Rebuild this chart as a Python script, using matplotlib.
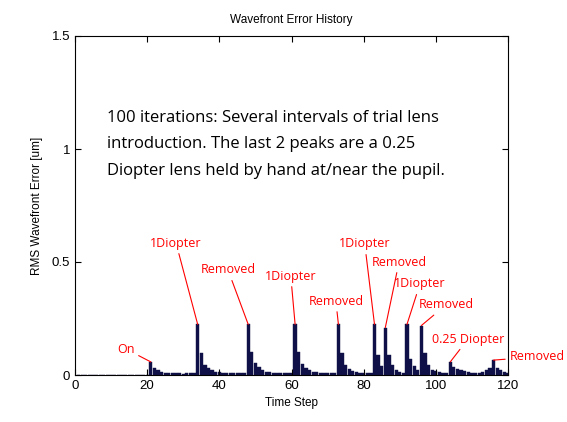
import matplotlib
matplotlib.use("Agg")
import matplotlib.pyplot as plt
import numpy as np

# RMS wavefront error per time step (1..120)
steps = list(range(1, 121))
rms_error = [
    0, 0, 0, 0, 0, 0, 0, 0, 0, 0,
    0, 0, 0, 0, 0, 0, 0, 0, 0, 0,
    0.058, 0.032, 0.022, 0.013, 0.010, 0.008, 0.007, 0.008, 0.007, 0.006,
    0.007, 0.008, 0.007, 0.224, 0.096, 0.044, 0.030, 0.020, 0.014, 0.012,
    0.010, 0.009, 0.009, 0.008, 0.008, 0.009, 0.008, 0.224, 0.100, 0.055,
    0.035, 0.020, 0.015, 0.012, 0.010, 0.009, 0.009, 0.008, 0.008, 0.009,
    0.224, 0.100, 0.050, 0.030, 0.020, 0.015, 0.012, 0.010, 0.009, 0.008,
    0.008, 0.009, 0.224, 0.098, 0.044, 0.025, 0.018, 0.012, 0.010, 0.009,
    0.008, 0.009, 0.224, 0.090, 0.040, 0.210, 0.088, 0.044, 0.022, 0.015,
    0.010, 0.224, 0.073, 0.040, 0.020, 0.219, 0.096, 0.044, 0.022, 0.018,
    0.012, 0.010, 0.008, 0.058, 0.036, 0.025, 0.020, 0.018, 0.012, 0.010,
    0.010, 0.010, 0.015, 0.020, 0.030, 0.066, 0.030, 0.022, 0.015, 0.010,
]

# annotations: label and the step it points at
ann_labels = ["On", "1Diopter", "Removed", "1Diopter", "Removed", "1Diopter",
              "Removed", "1Diopter", "Removed", "0.25 Diopter", "Removed"]
ann_steps = [21, 34, 48, 61, 73, 83, 86, 92, 96, 104, 116]
# where the label text sits (data coords)
ann_text_pos = [(14.1, 0.115), (28.0, 0.584), (42.4, 0.465), (59.8, 0.438),
                (72.3, 0.327), (80.3, 0.580), (89.8, 0.500), (95.6, 0.403),
                (102.8, 0.310), (108.9, 0.159), (128.0, 0.080)]

note = ("100 iterations: Several intervals of trial lens\n"
        "introduction. The last 2 peaks are a 0.25\n"
        "Diopter lens held by hand at/near the pupil.")

plt.rcParams['font.family'] = ['Liberation Sans', 'DejaVu Sans']

fig = plt.figure(figsize=(5.67, 4.22), dpi=100)
ax = fig.add_axes([75 / 567, 47 / 422, 433 / 567, 339 / 422])

ax.bar(steps, rms_error, width=0.9, color='#101048', edgecolor='#101048', linewidth=0.3)

ax.set_xlim(0, 120)
ax.set_ylim(0, 1.5)
ax.set_xticks(np.arange(0, 121, 20))
ax.set_yticks([0, 0.5, 1, 1.5])
ax.set_yticklabels(["0", "0.5", "1", "1.5"])
ax.tick_params(direction='in', top=True, right=True, labelsize=9.5, length=4, width=0.8)
for s in ax.spines.values():
    s.set_linewidth(0.8)

ax.set_title("Wavefront Error History", fontsize=8.5, pad=9)
ax.set_xlabel("Time Step", fontsize=8.5, labelpad=4)
ax.set_ylabel("RMS Wavefront Error [um]", fontsize=8.5, labelpad=6)

for lab, st, (tx, ty) in zip(ann_labels, ann_steps, ann_text_pos):
    ax.annotate(lab, xy=(st, rms_error[st - 1]), xytext=(tx, ty),
                ha='center', va='center', color='red', fontsize=9,
                family=['Open Sans', 'DejaVu Sans'], annotation_clip=False,
                arrowprops=dict(arrowstyle='-', color='red', lw=0.8,
                                shrinkA=1, shrinkB=0))

ax.text(9, 1.02, note, ha='left', va='center', fontsize=12,
        family=['Open Sans', 'DejaVu Sans'], linespacing=1.85)

fig.savefig("out.png", dpi=100)
